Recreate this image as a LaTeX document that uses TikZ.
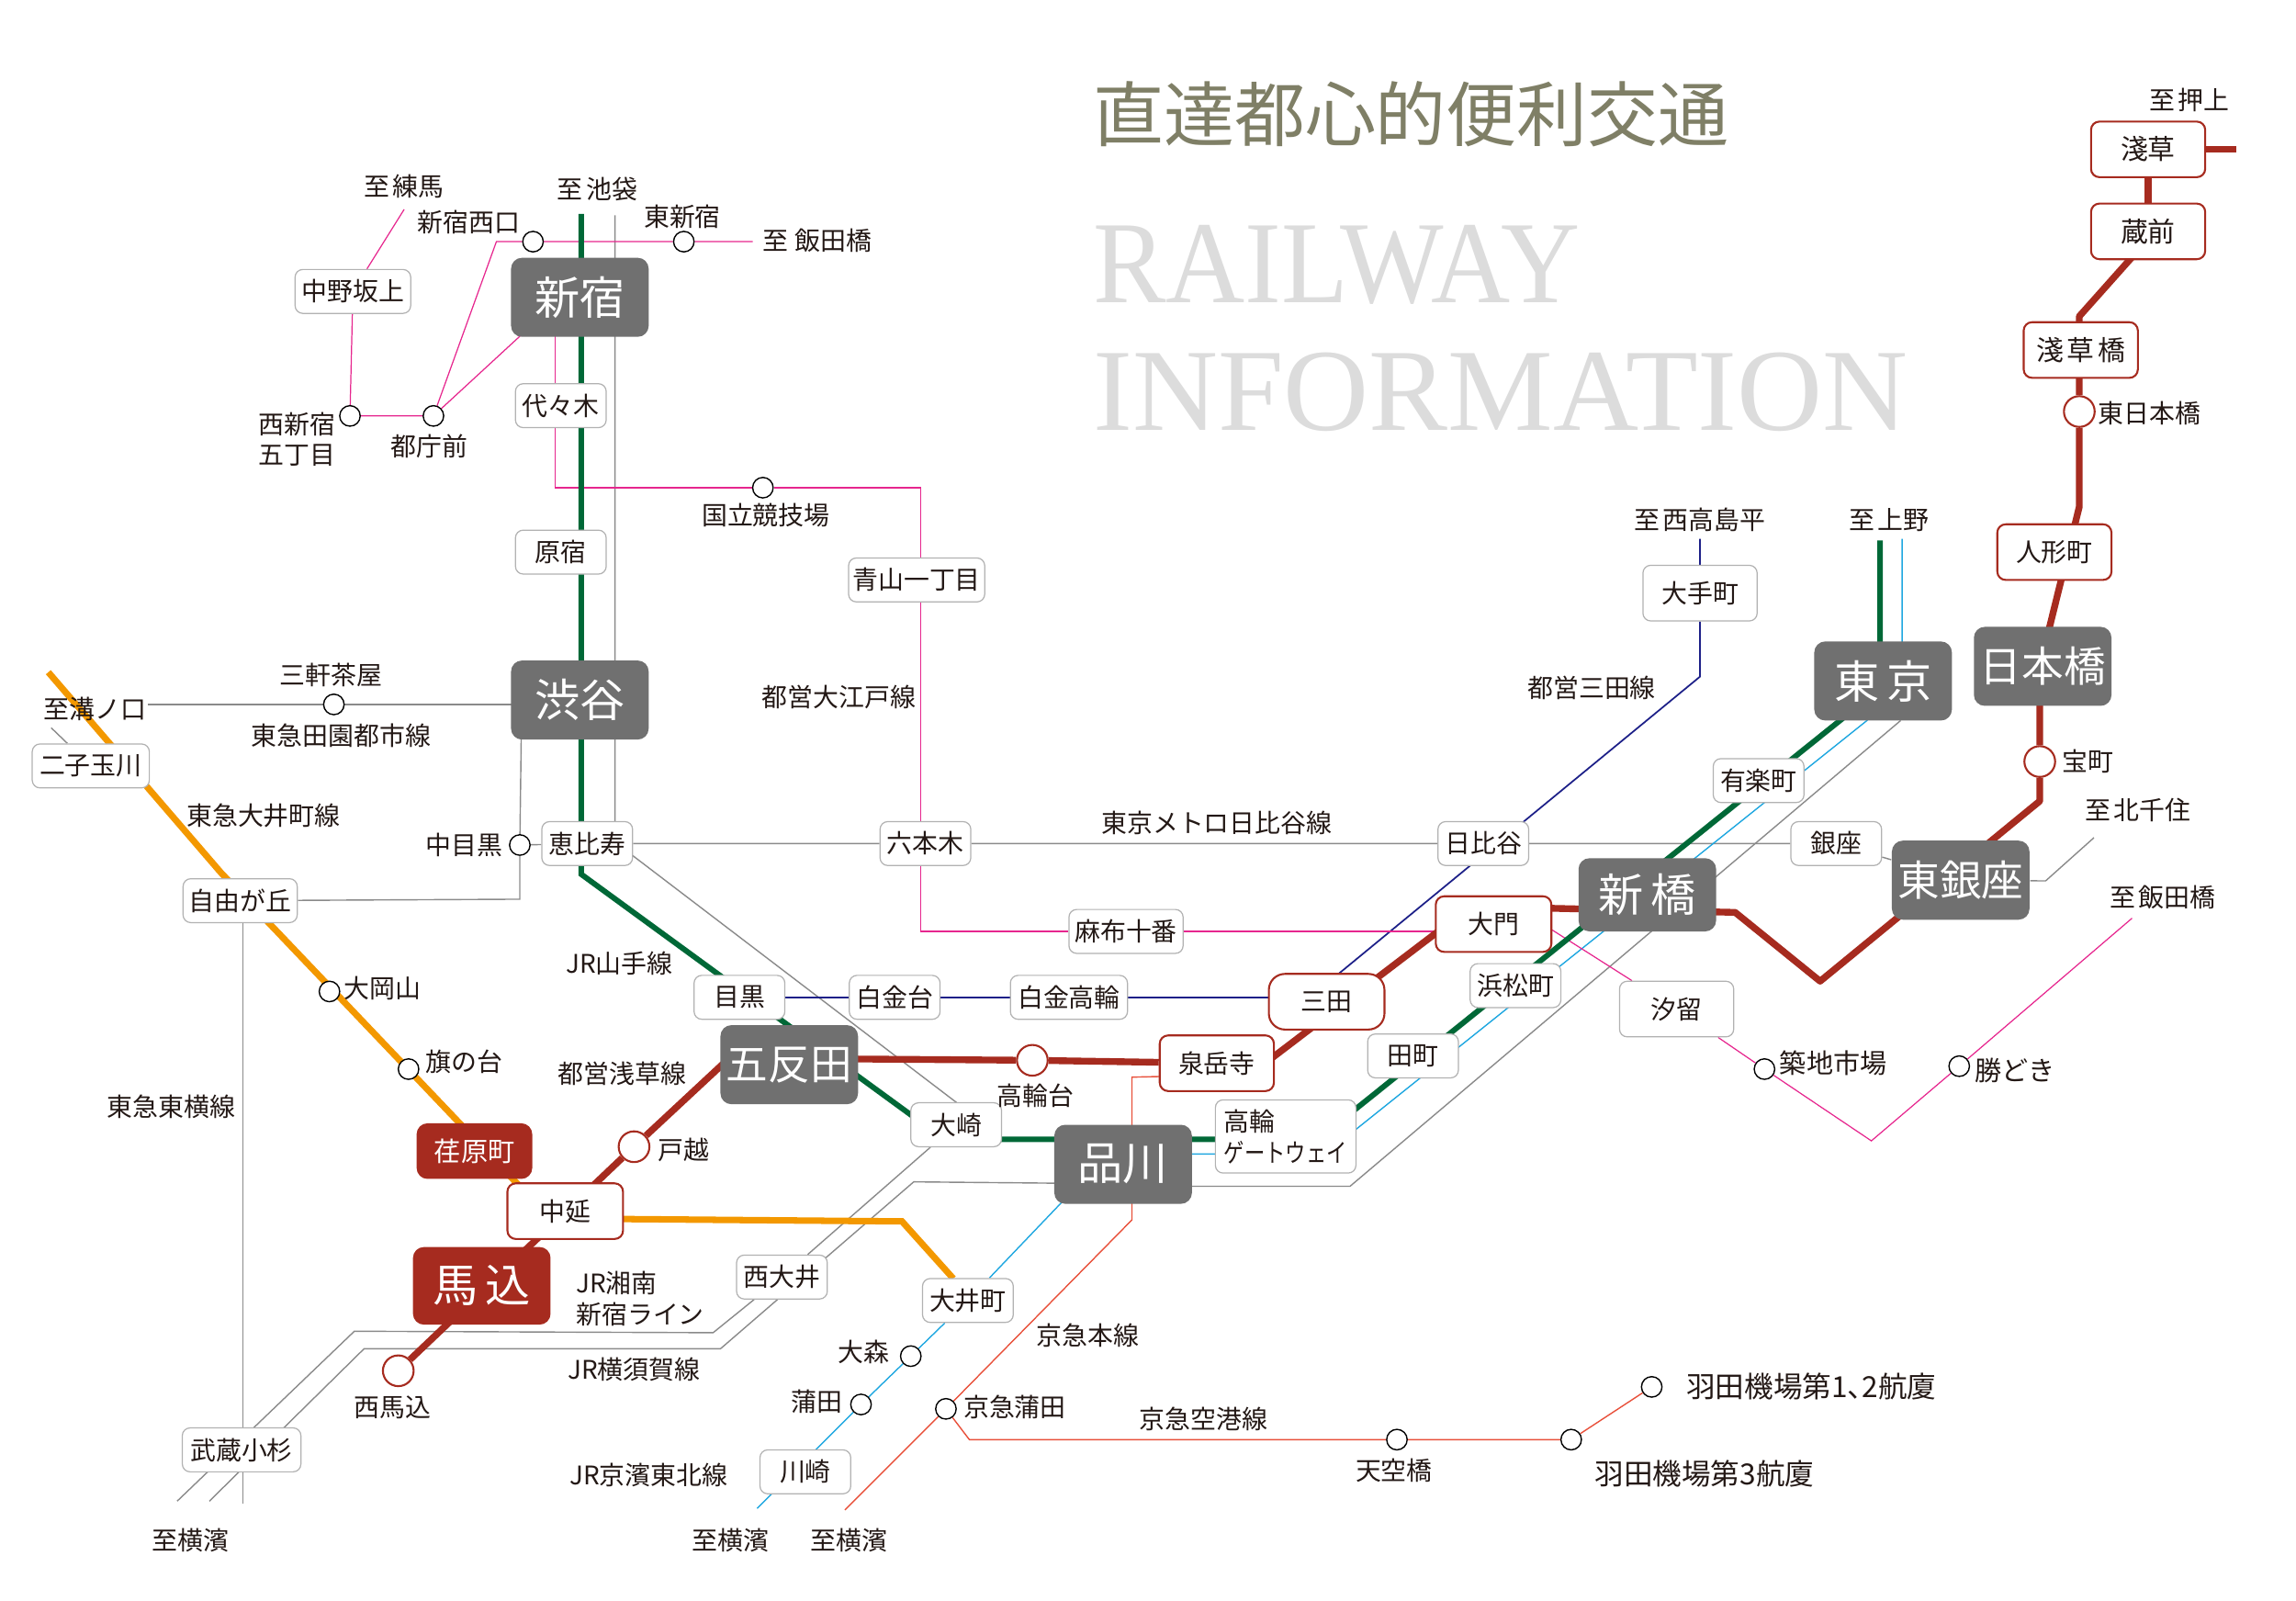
\documentclass[tikz,border=0pt]{standalone}
\usepackage{fontspec}
\setmainfont{Noto Sans CJK JP}
\newfontfamily\latinfont{Liberation Serif}
\usetikzlibrary{backgrounds}
\newcommand{\un}{0.4536pt}
\newcommand{\gp}{\kern1pt}
\definecolor{txt}{HTML}{231815}
\definecolor{ggrey}{HTML}{707070}
\definecolor{rbrown}{HTML}{A62B1F}
\definecolor{yama}{HTML}{006837}
\definecolor{orangeline}{HTML}{F39800}
\definecolor{pinkline}{HTML}{E6268E}
\definecolor{greyline}{HTML}{8A8A8A}
\definecolor{blueline}{HTML}{1FA7E0}
\definecolor{navyline}{HTML}{1D2088}
\definecolor{keikyu}{HTML}{E8503A}
\definecolor{titleol}{HTML}{7F7F66}
\definecolor{titlegr}{HTML}{DCDCDC}
\tikzset{
 x=0.015944cm, y=-0.015944cm,
 fs/.style={font=\fontsize{7.94}{9.6}\selectfont},
 fr/.style={font=\fontsize{8.5}{10}\selectfont},
 lbl/.style={fs, text=txt, inner sep=0pt, align=center},
 wh/.style 2 args={minimum width=#1*\un, minimum height=#2*\un, inner sep=0pt},
 boxg/.style={lbl, draw=black!30, line width=0.35pt, fill=white, rounded corners=2.4pt},
 boxr/.style={lbl, draw=rbrown, line width=0.6pt, fill=white, rounded corners=2.6pt},
 boxbig/.style={fill=ggrey, text=white, rounded corners=3.4pt, wh={94}{54}, font=\fontsize{13}{15}\selectfont, align=center},
 boxred/.style={fill=rbrown, text=white, rounded corners=3.4pt, align=center},
 stn/.style={circle, draw=black, fill=white, line width=0.4pt, minimum size=14*\un, inner sep=0pt},
 stnr/.style={circle, draw=rbrown, fill=white, line width=0.6pt, minimum size=21*\un, inner sep=0pt},
 lyama/.style={draw=yama, line width=1.7pt},
 lred/.style={draw=rbrown, line width=2.1pt, line join=round},
 lorange/.style={draw=orangeline, line width=2pt},
 lpink/.style={draw=pinkline, line width=0.35pt},
 lgrey/.style={draw=greyline, line width=0.4pt},
 lblue/.style={draw=blueline, line width=0.4pt},
 lnavy/.style={draw=navyline, line width=0.5pt},
 lkei/.style={draw=keikyu, line width=0.4pt},
}
\begin{document}
\begin{tikzpicture}
\useasboundingbox (0,0) rectangle (1568,1093.2);

% titles
\node[anchor=west, inner sep=0pt, text=titleol, font=\fontsize{21.9}{24}\selectfont] (title) at (746,78) {直達都心的便利交通};
\node[anchor=west, inner sep=0pt, text=titlegr, font=\latinfont\fontsize{36.3}{40}\selectfont] (railway) at (746,181) {\scalebox{0.935}[1]{RAILWAY}};
\node[anchor=west, inner sep=0pt, text=titlegr, font=\latinfont\fontsize{36.3}{40}\selectfont] (information) at (746,268) {\scalebox{1.01}[1]{INFORMATION}};

% large grey stations
\node[boxbig, font=\fontsize{14}{16}\selectfont] (shinjuku) at (396,203) {新宿};
\node[boxbig, font=\fontsize{14}{16}\selectfont] (shibuya) at (396,478) {渋谷};
\node[boxbig] (gotanda) at (539,727) {五反田};
\node[boxbig, font=\fontsize{14}{16}\selectfont] (shinagawa) at (767,795) {品川};
\node[boxbig, wh={94}{50}, font=\fontsize{14}{16}\selectfont] (shinbashi) at (1125,611) {新\,橋};
\node[boxbig, font=\fontsize{14}{16}\selectfont] (tokyo) at (1286,465) {東\,京};
\node[boxbig] (nihonbashi) at (1395,455) {日本橋};
\node[boxbig] (higashiginza) at (1339,601) {東銀座};
% red stations
\node[boxred, wh={94}{53}, font=\fontsize{14}{16}\selectfont] (magome) at (329,878) {馬\,込};
\node[boxred, wh={79}{38}, font=\fontsize{8.3}{10}\selectfont] (ebara) at (324,786) {荏原町};
\node[boxr, wh={79}{38}] (nakanobu) at (386,827) {中延};
\node[boxr, wh={78}{38}] (sengakuji) at (831,726) {泉岳寺};
\node[boxr, wh={79}{38}, rounded corners=5pt] (mita) at (906,684) {三田};
\node[boxr, wh={79}{38}] (daimon) at (1020,631) {大門};
\node[boxr, wh={78}{38}, fr] (asakusa) at (1467,102) {淺草};
\node[boxr, wh={78}{38}, fr] (kuramae) at (1467,158) {蔵前};
\node[boxr, wh={78}{38}, fr] (asakusabashi) at (1421,239) {淺\gp 草\gp 橋};
\node[boxr, wh={78}{38}] (ningyocho) at (1403,377) {人形町};
% white stations
\node[boxg, wh={79}{30}] (nakano) at (241,199) {中野坂上};
\node[boxg, wh={62}{30}] (yoyogi) at (383,277) {代々木};
\node[boxg, wh={62}{30}] (harajuku) at (383,377) {原宿};
\node[boxg, wh={93}{30}] (aoyama) at (626,396) {青山一丁目};
\node[boxg, wh={80}{30}] (futako) at (62,523) {二子玉川};
\node[boxg, wh={62}{30}] (ebisu) at (401,576) {恵比寿};
\node[boxg, wh={62}{30}] (roppongi) at (632,576) {六本木};
\node[boxg, wh={62}{30}] (hibiya) at (1013,576) {日比谷};
\node[boxg, wh={62}{30}] (ginza) at (1254,576) {銀座};
\node[boxg, wh={62}{30}] (yurakucho) at (1201,533) {有楽町};
\node[boxg, wh={78}{38}] (otemachi) at (1161,405) {大手町};
\node[boxg, wh={78}{30}] (azabu) at (769,636) {麻布十番};
\node[boxg, wh={78}{30}] (jiyu) at (164,615) {自由が丘};
\node[boxg, wh={62}{30}] (meguro) at (505,681) {目黒};
\node[boxg, wh={62}{30}] (shirokanedai) at (611,681) {白金台};
\node[boxg, wh={80}{30}] (shirokanetakanawa) at (730,681) {白金高輪};
\node[boxg, wh={78}{38}] (shiodome) at (1145,689) {汐留};
\node[boxg, wh={62}{30}] (hamamatsucho) at (1035,673) {浜松町};
\node[boxg, wh={62}{30}] (tamachi) at (965,721) {田町};
\node[boxg, wh={96}{50}, align=left] (gateway) at (878,776) {高輪\\\scalebox{0.8}[1]{ゲートウェイ}};
\node[boxg, wh={62}{30}] (osaki) at (653,768) {大崎};
\node[boxg, wh={62}{30}] (nishioi) at (534,872) {西大井};
\node[boxg, wh={62}{30}] (oimachi) at (661,888) {大井町};
\node[boxg, wh={62}{30}] (kawasaki) at (550,1005) {川崎};
\node[boxg, wh={81}{30}] (musashi) at (165,990) {武蔵小杉};
% small circles
\node[stn] (nishiguchi) at (364,165) {};
\node[stn] (higashishin) at (467,165) {};
\node[stn] (nishishin) at (239,284) {};
\node[stn] (tocho) at (296,284) {};
\node[stn] (kokuritsu) at (521,333) {};
\node[stn] (sangen) at (228,481) {};
\node[stn] (nakameguro) at (355,577) {};
\node[stn] (ookayama) at (225,677) {};
\node[stn] (hatanodai) at (279,730) {};
\node[stn] (omori) at (622,926) {};
\node[stn] (kamata) at (588,959) {};
\node[stn] (kkamata) at (646,962) {};
\node[stn] (tenku) at (954,983) {};
\node[stn] (haneda3) at (1073,983) {};
\node[stn] (haneda12) at (1128,947) {};
\node[stn] (tsukiji) at (1205,730) {};
\node[stn] (kachidoki) at (1338,728) {};
% red circles
\node[stnr] (takanawadai) at (705,724) {};
\node[stnr] (togoshi) at (433,783) {};
\node[stnr] (nishimagome) at (272,936) {};
\node[stnr] (higashinihon) at (1420,281) {};
\node[stnr] (takara) at (1393,520) {};

% free labels
\node[lbl] (t01) at (276,127) {至\gp 練馬};
\node[lbl] (t02) at (408,129) {至\gp 池袋};
\node[lbl] (t03) at (320,152) {新宿西口};
\node[lbl] (t04) at (466,148) {東新宿};
\node[lbl] (t05) at (558,164) {至\kern2pt 飯田橋};
\node[lbl] (t06) at (203,300) {西新宿\\五丁目};
\node[lbl] (t07) at (293,305) {都庁前};
\node[lbl] (t08) at (523,352) {国立競技場};
\node[lbl] (t09) at (573,476) {都営大江戸線};
\node[lbl] (t10) at (226,461) {三軒茶屋};
\node[lbl] (t11) at (233,502) {東急田園都市線};
\node[lbl] (t12) at (65,484) {至溝ノ口};
\node[lbl] (t13) at (180,557) {東急大井町線};
\node[lbl] (t14) at (317,577) {中目黒};
\node[lbl] (t15) at (117,756) {東急東横線};
\node[lbl] (t16) at (261,675) {大岡山};
\node[lbl] (t17) at (317,725) {旗の台};
\node[lbl] (t18) at (423,658) {JR山手線};
\node[lbl] (t19) at (425,733) {都営浅草線};
\node[lbl] (t20) at (467,785) {戸越};
\node[lbl] (t21) at (707,748) {高輪台};
\node[lbl, align=left, anchor=west] (t22) at (393,887) {JR湘南\\新宿ライン};
\node[lbl] (t23) at (433,935) {JR横須賀線};
\node[lbl] (t24) at (268,961) {西馬込};
\node[lbl] (t25) at (130,1052) {至横濱};
\node[lbl] (t26) at (590,923) {大森};
\node[lbl] (t27) at (558,957) {蒲田};
\node[lbl] (t28) at (693,961) {京急蒲田};
\node[lbl] (t29) at (443,1007) {JR京濱東北線};
\node[lbl] (t30) at (499,1052) {至横濱};
\node[lbl] (t31) at (580,1052) {至横濱};
\node[lbl] (t32) at (743,912) {京急本線};
\node[lbl] (t33) at (822,969) {京急空港線};
\node[lbl] (t34) at (952,1004) {天空橋};
\node[lbl, font=\fontsize{9}{11}\selectfont] (t35) at (1164,1006) {羽田機場第3航廈};
\node[lbl, font=\fontsize{9}{11}\selectfont] (t36) at (1237,947) {羽田機場第1、\kern-4.5pt 2航廈};
\node[lbl, font=\fontsize{8.3}{10}\selectfont] (t37) at (1252,726) {築地市場};
\node[lbl, font=\fontsize{8.3}{10}\selectfont] (t38) at (1376,731) {勝どき};
\node[lbl] (t39) at (1477,613) {至\gp 飯田橋};
\node[lbl] (t40) at (1460,553) {至\gp 北千住};
\node[lbl] (t41) at (1426,520) {宝町};
\node[lbl] (t42) at (831,562) {東京メトロ日比谷線};
\node[lbl] (t43) at (1087,470) {都営三田線};
\node[lbl] (t44) at (1161,355) {至\gp 西高島平};
\node[lbl] (t45) at (1290,355) {至\gp 上野};
\node[lbl] (t46) at (1468,282) {東日本橋};
\node[lbl] (t47) at (1495,68) {至\gp 押上};

% waypoints
\coordinate (pk0) at (276,143);
\coordinate (pk1) at (360,225);
\coordinate (pk2) at (339,165);
\coordinate (pk2b) at (514,165);
\coordinate (pk3) at (379,225);
\coordinate (pk4) at (379,333);
\coordinate (pk5) at (629,333);
\coordinate (pk6) at (629,636);
\coordinate (pk10) at (990,636);
\coordinate (pk7) at (1060,635);
\coordinate (pk8) at (1278,779);
\coordinate (pk9) at (1456,627);
\coordinate (gu1) at (420,147);
\coordinate (gu2) at (420,575);
\coordinate (gu3) at (660,758);
\coordinate (gd1) at (101,481);
\coordinate (gd2) at (360,481);
\coordinate (gd3) at (35,497);
\coordinate (gt1) at (356,500);
\coordinate (gt2) at (355,614);
\coordinate (gv0) at (166,615);
\coordinate (gv1) at (166,1027);
\coordinate (gh2) at (1397,601.5);
\coordinate (gh3) at (1430,572);
\coordinate (gs1) at (487,910);
\coordinate (gs2) at (242,909);
\coordinate (gs3) at (121,1025);
\coordinate (gk1) at (730,808);
\coordinate (gk0) at (624,807);
\coordinate (gk5) at (492,921);
\coordinate (gk6) at (248.6,921);
\coordinate (gk7) at (143,1025);
\coordinate (gk2) at (805,810);
\coordinate (gk3) at (922,810);
\coordinate (gk4) at (1298,492);
\coordinate (b1) at (1299,368);
\coordinate (b2) at (1299,445);
\coordinate (b3) at (1275,492);
\coordinate (b4) at (925,772);
\coordinate (b5) at (905,788);
\coordinate (b6) at (745,788);
\coordinate (b7) at (726,820);
\coordinate (b8) at (517,1030);
\coordinate (n1) at (1161,368);
\coordinate (n2) at (1161,462);
\coordinate (n3) at (908,670);
\coordinate (k0) at (795,735);
\coordinate (k1) at (773,735.5);
\coordinate (k2) at (773,833);
\coordinate (k3) at (577,1031);
\coordinate (k4) at (662,983);
\coordinate (g1) at (397,146);
\coordinate (g2) at (397,597);
\coordinate (g3) at (645,778);
\coordinate (g4) at (900,778);
\coordinate (g5) at (1284,470);
\coordinate (g6) at (1284,369);
\coordinate (o1) at (33,459);
\coordinate (o2) at (151,596);
\coordinate (o3) at (353,808);
\coordinate (o4) at (380,832);
\coordinate (o5) at (616,834);
\coordinate (o6) at (651,873);
\coordinate (ra1) at (505,716);
\coordinate (ra2) at (570,723);
\coordinate (ra3) at (860,729);
\coordinate (ra4) at (990,630);
\coordinate (ra5) at (1050,620);
\coordinate (ra6) at (1185,623);
\coordinate (ra7) at (1243,670);
\coordinate (ra8) at (1393,547);
\coordinate (ra9) at (1393,470);
\coordinate (ra10) at (1398,435);
\coordinate (ra11) at (1420,346);
\coordinate (ra12) at (1420,216);
\coordinate (ra13) at (1461,170);
\coordinate (ra14) at (1527,102);

\begin{pgfonlayer}{background}
 % grey lines
 \draw[lgrey] (gu1) -- (gu2) -- (gu3);
 \draw[lgrey] (gd1) -- (sangen) -- (gd2);
 \draw[lgrey] (gd3) -- (futako);
 \draw[lgrey] (gt1) -- (nakameguro) -- (gt2) -- (jiyu);
 \draw[lgrey] (gv0) -- (gv1);
 \draw[lgrey] (nakameguro) -- (ebisu) -- (roppongi) -- (hibiya) -- (ginza) -- (higashiginza);
 \draw[lgrey] (higashiginza) -- (gh2) -- (gh3);
 \draw[lgrey] (osaki) -- (nishioi) -- (gs1) -- (gs2) -- (gs3);
 \draw[lgrey] (gk1) -- (gk0) -- (gk5) -- (gk6) -- (gk7);
 \draw[lgrey] (gk2) -- (gk3) -- (gk4);
 % blue
 \draw[lblue] (b1) -- (b2) -- (b3) -- (b4) -- (b5) -- (b6) -- (b7) -- (oimachi) -- (omori) -- (kamata) -- (b8);
 % navy
 \draw[lnavy] (n1) -- (otemachi) -- (n2) -- (n3);
 \draw[lnavy] (mita.west |- meguro) -- (shirokanetakanawa) -- (shirokanedai) -- (meguro);
 % keikyu
 \draw[lkei] (k0) -- (k1) -- (k2) -- (kkamata) -- (k3);
 \draw[lkei] (kkamata) -- (k4) -- (tenku) -- (haneda3) -- (haneda12);
 % pink
 \draw[lpink] (pk0) -- (nakano) -- (nishishin) -- (tocho) -- (pk1);
 \draw[lpink] (tocho) -- (pk2) -- (nishiguchi) -- (higashishin) -- (pk2b);
 \draw[lpink] (pk3) -- (pk4) -- (kokuritsu) -- (pk5) -- (pk6) -- (azabu) -- (pk10);
 \draw[lpink] (pk7) -- (shiodome) -- (tsukiji) -- (pk8) -- (kachidoki) -- (pk9);
 % Yamanote
 \draw[lyama] (g1) -- (g2) -- (g3) -- (g4) -- (g5) -- (g6);
 % Oimachi
 \draw[lorange] (o1) -- (o2) -- (o3) -- (o4) -- (o5) -- (o6);
 % Asakusa
 \draw[lred] (nishimagome) -- (togoshi) -- (ra1);
 \draw[lred] (ra2) -- (takanawadai) -- (sengakuji);
 \draw[lred] (ra3) -- (ra4);
 \draw[lred] (ra5) -- (ra6) -- (ra7) -- (ra8) -- (takara) -- (ra9);
 \draw[lred] (ra10) -- (ra11) -- (higashinihon) -- (ra12) -- (ra13);
 \draw[lred] (kuramae) -- (asakusa) -- (ra14);
\end{pgfonlayer}
\end{tikzpicture}
\end{document}
